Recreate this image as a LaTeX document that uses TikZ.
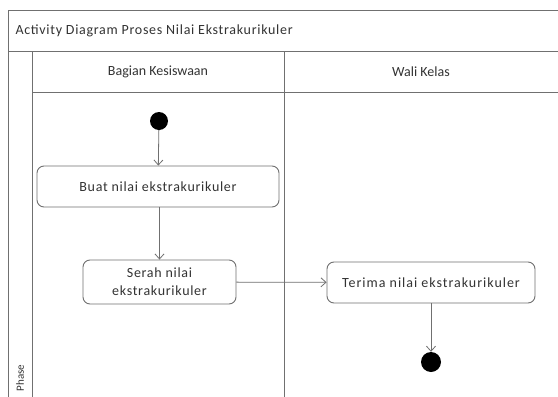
\documentclass[tikz,border=0pt]{standalone}
\usepackage{fontspec}
\setmainfont{Carlito}
\newfontfamily\widefont[LetterSpace=5]{Carlito}
\newfontfamily\widerfont[LetterSpace=7]{Carlito}
\usetikzlibrary{arrows.meta}
\definecolor{ln}{HTML}{707070}
\definecolor{tx}{HTML}{333333}
\tikzset{
  frame/.style={draw=ln, line width=0.9pt},
  act/.style={draw=ln, line width=0.9pt, rounded corners=7pt, fill=white, align=center, text=tx, inner sep=0pt},
  flow/.style={draw=ln, line width=0.8pt, -{Straight Barb[length=5pt,width=9pt]}},
  dot/.style={circle, fill=black, inner sep=0pt},
  lbl/.style={text=tx}
}
\begin{document}
\begin{tikzpicture}[x=1pt,y=-1pt]
\useasboundingbox (0,0) rectangle (558,397);
\fill[white] (0,0) rectangle (558,397);
% frame
\draw[frame] (558,10) -- (8,10) -- (8,397);
\draw[frame] (8,51) -- (558,51);
\draw[frame] (32,51) -- (32,397);
\draw[frame] (32,92) -- (558,92);
\draw[frame] (284,51) -- (284,397);
% labels
\node[lbl, anchor=west, font=\widefont\fontsize{14}{16}\selectfont] (title) at (12,31) {Activity Diagram Proses Nilai Ekstrakurikuler};
\node[lbl, font=\fontsize{14}{16}\selectfont] (lane1) at (158,72) {Bagian Kesiswaan};
\node[lbl, font=\fontsize{14}{16}\selectfont] (lane2) at (421,72) {Wali Kelas};
\node[lbl, rotate=90, font=\fontsize{11}{13}\selectfont] (phase) at (20,378) {Phase};
% nodes
\node[dot, minimum size=18pt] (start) at (159,121) {};
\node[act, minimum width=242pt, minimum height=41pt, font=\widefont\fontsize{14}{18}\selectfont] (buat) at (158,186.5) {Buat nilai ekstrakurikuler};
\node[act, minimum width=153pt, minimum height=44pt, font=\widefont\fontsize{14}{18}\selectfont] (serah) at (159.5,282) {Serah nilai\\ekstrakurikuler};
\node[act, minimum width=208pt, minimum height=41pt, font=\widerfont\fontsize{14}{16}\selectfont] (terima) at (431,282.5) {Terima nilai ekstrakurikuler};
\node[dot, minimum size=20pt] (end) at (431,362) {};
% flows
\draw[flow] (start) -- (buat);
\draw[flow] (buat.south -| serah.north) -- (serah.north);
\draw[flow] (serah) -- (terima);
\draw[flow] (terima) -- (end);
\end{tikzpicture}
\end{document}
